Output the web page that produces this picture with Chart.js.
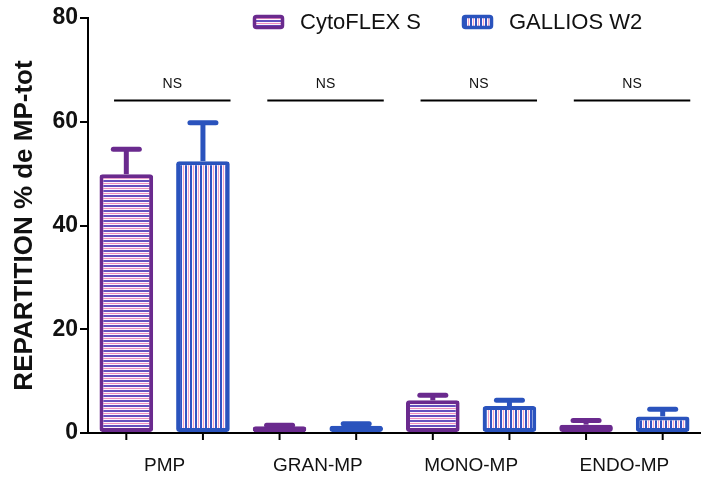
<!DOCTYPE html>
<html>
<head>
<meta charset="utf-8">
<script src="https://cdn.jsdelivr.net/npm/chart.js@4.4.0/dist/chart.umd.min.js"></script>
<style>
  html, body { margin: 0; padding: 0; background: #fff; }
  #chart { display: block; }
</style>
</head>
<body>
<canvas id="chart" width="701" height="497"></canvas>
<script>
const categories = ['PMP', 'GRAN-MP', 'MONO-MP', 'ENDO-MP'];
const seriesNames = ['CytoFLEX S', 'GALLIOS W2'];
const cytoflexValues = [49.9, 1.3, 6.3, 1.6];
const cytoflexErrors = [4.8, 0.2, 1.0, 0.8];
const galliosValues = [52.4, 1.4, 5.2, 3.2];
const galliosErrors = [7.4, 0.4, 1.1, 1.4];
const yTicks = [0, 20, 40, 60, 80];
const significance = ['NS', 'NS', 'NS', 'NS'];
const nsLineLevel = 64.1;
const nsTextLevel = 67.2;

const FONT = "'Liberation Sans', Arial, sans-serif";
const PURPLE = '#6a2a8e';
const BLUE = '#2a53bd';

function makeStripes(horizontal, lineColor, pinkColor) {
    const c = document.createElement('canvas');
    c.width = 5;
    c.height = 5;
    const g = c.getContext('2d');
    g.fillStyle = '#fff7fb';
    g.fillRect(0, 0, 5, 5);
    if (horizontal) {
        g.fillStyle = lineColor;
        g.fillRect(0, 0, 5, 2);
        g.fillStyle = pinkColor;
        g.fillRect(0, 3, 5, 1);
    } else {
        g.fillStyle = lineColor;
        g.fillRect(0, 0, 2, 5);
        g.fillStyle = pinkColor;
        g.fillRect(3, 0, 1, 5);
    }
    return g.createPattern(c, 'repeat');
}

const cytoPattern = makeStripes(true, '#6450bf', '#ee8fc0');
const galliosPattern = makeStripes(false, '#2f52c4', '#f0a2c8');

// error bars, ticks under each bar, NS brackets, legend
const extrasPlugin = {
    id: 'extras',
    afterDatasetsDraw(chart) {
        const ctx = chart.ctx;
        const y = chart.scales.y;
        chart.data.datasets.forEach((ds, i) => {
            const meta = chart.getDatasetMeta(i);
            meta.data.forEach((bar, j) => {
                const top = y.getPixelForValue(ds.data[j] + ds.errors[j]);
                ctx.save();
                ctx.strokeStyle = ds.borderColor;
                ctx.lineWidth = 5;
                ctx.beginPath();
                ctx.moveTo(bar.x, bar.y);
                ctx.lineTo(bar.x, top);
                ctx.stroke();
                ctx.lineCap = 'round';
                ctx.beginPath();
                ctx.moveTo(bar.x - 13, top);
                ctx.lineTo(bar.x + 13, top);
                ctx.stroke();
                ctx.restore();
            });
        });
    },
    afterDraw(chart) {
        const ctx = chart.ctx;
        const area = chart.chartArea;
        const x = chart.scales.x;
        const y = chart.scales.y;
        ctx.save();
        // small ticks below each bar
        ctx.strokeStyle = '#000';
        ctx.lineWidth = 2;
        chart.data.datasets.forEach((ds, i) => {
            chart.getDatasetMeta(i).data.forEach(bar => {
                ctx.beginPath();
                ctx.moveTo(bar.x, area.bottom);
                ctx.lineTo(bar.x, area.bottom + 7);
                ctx.stroke();
            });
        });
        // NS lines
        const ly = y.getPixelForValue(nsLineLevel);
        const ty = y.getPixelForValue(nsTextLevel);
        ctx.font = '14px ' + FONT;
        ctx.fillStyle = '#111';
        ctx.textAlign = 'center';
        ctx.textBaseline = 'middle';
        significance.forEach((txt, i) => {
            const x1 = x.getPixelForValue(i - 0.33);
            const x2 = x.getPixelForValue(i + 0.43);
            ctx.beginPath();
            ctx.moveTo(x1, ly);
            ctx.lineTo(x2, ly);
            ctx.stroke();
            ctx.fillText(txt, (x1 + x2) / 2, ty);
        });
        // legend
        const starts = [253, 462];
        ctx.font = '22px ' + FONT;
        ctx.textAlign = 'left';
        chart.data.datasets.forEach((ds, i) => {
            const bx = starts[i];
            ctx.fillStyle = ds.backgroundColor;
            ctx.strokeStyle = ds.borderColor;
            ctx.lineWidth = 3.5;
            ctx.beginPath();
            ctx.roundRect(bx + 1.5, 16.5, 28, 11, 2);
            ctx.fill();
            ctx.stroke();
            ctx.fillStyle = '#111';
            ctx.fillText(ds.label, bx + 47, 23);
        });
        ctx.restore();
    }
};

new Chart(document.getElementById('chart'), {
    type: 'bar',
    data: {
        labels: categories,
        datasets: [
            {
                label: seriesNames[0],
                data: cytoflexValues,
                errors: cytoflexErrors,
                backgroundColor: cytoPattern,
                borderColor: PURPLE,
                borderWidth: 4,
                borderRadius: 3,
                borderSkipped: false,
                barPercentage: 0.7,
                categoryPercentage: 1.0
            },
            {
                label: seriesNames[1],
                data: galliosValues,
                errors: galliosErrors,
                backgroundColor: galliosPattern,
                borderColor: BLUE,
                borderWidth: 4,
                borderRadius: 3,
                borderSkipped: false,
                barPercentage: 0.7,
                categoryPercentage: 1.0
            }
        ]
    },
    options: {
        responsive: false,
        animation: false,
        devicePixelRatio: 1,
        layout: { padding: { top: 18, right: 0, left: 0, bottom: 0 } },
        plugins: {
            legend: { display: false },
            tooltip: { enabled: false }
        },
        scales: {
            x: {
                offset: true,
                grid: { display: false },
                border: { color: '#000', width: 2 },
                ticks: {
                    color: '#111',
                    font: { family: FONT, size: 19 },
                    padding: 13,
                    maxRotation: 0
                },
                afterFit: (scale) => { scale.height = 64; }
            },
            y: {
                min: 0,
                max: 80,
                afterBuildTicks: (scale) => { scale.ticks = yTicks.map(v => ({ value: v })); },
                grid: { drawOnChartArea: false, drawTicks: true, tickLength: 8, color: '#000', lineWidth: 2 },
                border: { color: '#000', width: 2 },
                ticks: {
                    color: '#111',
                    font: { family: FONT, size: 23, weight: 'bold' },
                    padding: 2
                },
                title: {
                    display: true,
                    text: 'REPARTITION % de MP-tot',
                    color: '#111',
                    font: { family: FONT, size: 26, weight: 'bold' },
                    padding: { top: 9, bottom: 0 }
                },
                afterFit: (scale) => { scale.width = 88; }
            }
        }
    },
    plugins: [extrasPlugin]
});
</script>
</body>
</html>
